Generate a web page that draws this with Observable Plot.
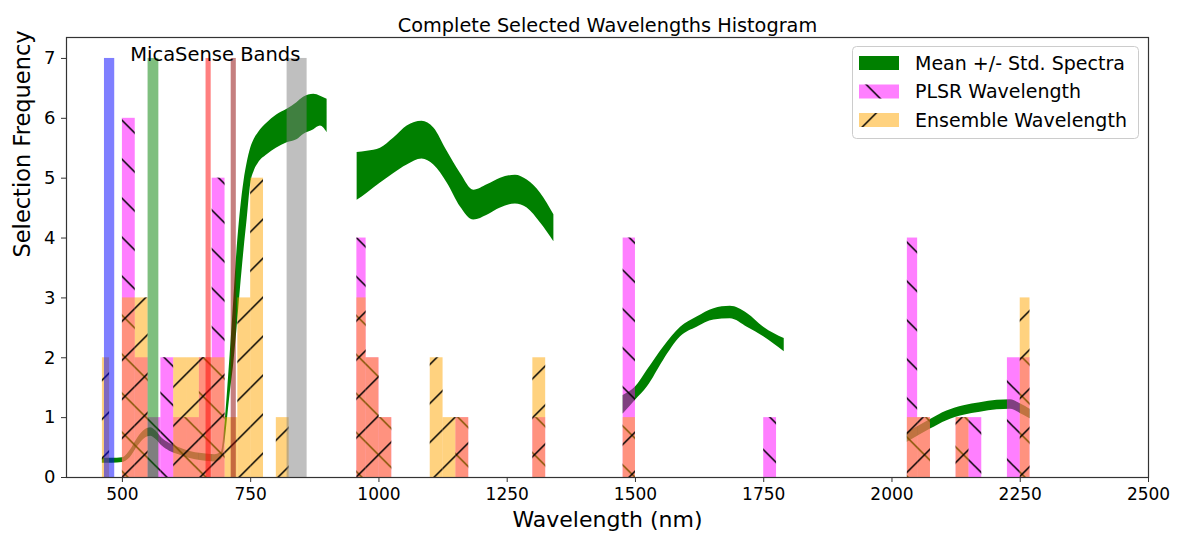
<!DOCTYPE html>
<html>
<head>
<meta charset="utf-8">
<script src="https://cdn.jsdelivr.net/npm/d3@7"></script>
<script src="https://cdn.jsdelivr.net/npm/@observablehq/plot@0.6"></script>
<style>
  html, body { margin: 0; padding: 0; background: #fff; }
  #chart { width: 1177px; height: 536px; }
</style>
</head>
<body>
<div id="chart"></div>
<script>
// ---------- data ----------
const titleText = "Complete Selected Wavelengths Histogram";
const xLabel = "Wavelength (nm)";
const yLabel = "Selection Frequency";
const xTicks = [500, 750, 1000, 1250, 1500, 1750, 2000, 2250, 2500];
const yTicks = [0, 1, 2, 3, 4, 5, 6, 7];

// MicaSense band spans
const bandNames = ["Blue", "Green", "Red", "RedEdge", "NIR"];
const bandStart = [465, 550, 663, 712, 821];
const bandEnd   = [485, 571, 673, 722, 860];
const bandTop   = [7, 7, 7, 7, 7];
const bandLabel = "MicaSense Bands";
const bandLabelX = 681;
const bandLabelY = 7;

// PLSR selected wavelength histogram
const plsrStart = [500, 525, 550, 575, 600, 625, 650, 675, 957, 975, 1000, 1150, 1300, 1476, 1750, 2030, 2050, 2125, 2150, 2225, 2250];
const plsrEnd   = [525, 550, 575, 600, 625, 650, 675, 700, 975, 1000, 1025, 1175, 1325, 1500, 1775, 2050, 2075, 2150, 2175, 2250, 2269];
const plsrCount = [6, 2, 1, 2, 1, 1, 2, 5, 4, 2, 1, 1, 1, 4, 1, 4, 1, 1, 1, 2, 2];

// Ensemble selected wavelength histogram
const ensStart = [461, 500, 525, 600, 625, 650, 675, 700, 725, 750, 800, 957, 975, 1000, 1100, 1125, 1150, 1300, 1476, 2030, 2050, 2125, 2250];
const ensEnd   = [475, 525, 550, 625, 650, 675, 700, 725, 750, 775, 825, 975, 1000, 1025, 1125, 1150, 1175, 1325, 1500, 2050, 2075, 2150, 2269];
const ensCount = [2, 3, 3, 2, 2, 2, 2, 1, 3, 5, 1, 3, 2, 1, 2, 1, 1, 2, 1, 1, 1, 1, 3];

// Mean +/- std spectra (scaled), segments separated by water-absorption gaps
const specSeg = [
  1,1,1,1,1,1,1,1,1,1,1,1,1,1,1,1,1,1,1,1,1,1,1,1,1,1,1,1,1,1,1,1,1,1,
  2,2,2,2,2,2,2,2,2,2,2,2,2,2,2,2,
  3,3,3,3,3,3,3,3,3,3,3,
  4,4,4,4,4,4,4,4,4
];
const specWl = [
  461, 480, 500, 515, 530, 545, 555, 565, 578, 592, 610, 630, 655, 680, 693, 700, 705, 710, 717, 723, 730, 737, 743, 750, 757, 765, 782, 800, 821, 840, 853, 873, 886, 899,
  957.5, 977, 1003, 1029, 1055, 1084, 1107, 1133, 1159, 1185, 1211, 1237, 1266, 1289, 1315, 1341,
  1476, 1500, 1523, 1555, 1588, 1620, 1653, 1685, 1718, 1750, 1790,
  2030, 2075, 2107, 2140, 2172, 2205, 2231, 2250, 2269
];
const specLo = [
  0.24, 0.24, 0.25, 0.33, 0.52, 0.66, 0.69, 0.64, 0.52, 0.44, 0.38, 0.32, 0.28, 0.26, 0.30, 0.60, 1.00, 1.40, 1.90, 2.45, 3.15, 3.80, 4.30, 4.90, 5.12, 5.25, 5.39, 5.50, 5.59, 5.64, 5.73, 5.81, 5.87, 5.76,
  4.63, 4.75, 4.92, 5.08, 5.22, 5.32, 5.22, 4.92, 4.52, 4.30, 4.38, 4.50, 4.57, 4.50, 4.25, 3.94,
  1.06, 1.29, 1.51, 1.96, 2.35, 2.51, 2.63, 2.65, 2.51, 2.35, 2.10,
  0.59, 0.81, 0.95, 1.04, 1.09, 1.13, 1.14, 1.07, 0.98
];
const specHi = [
  0.32, 0.32, 0.33, 0.45, 0.66, 0.80, 0.83, 0.78, 0.65, 0.57, 0.50, 0.44, 0.40, 0.38, 0.42, 0.90, 1.45, 2.05, 2.95, 3.75, 4.45, 4.95, 5.25, 5.50, 5.65, 5.76, 5.92, 6.05, 6.15, 6.26, 6.35, 6.40, 6.37, 6.32,
  5.43, 5.45, 5.50, 5.67, 5.87, 5.95, 5.84, 5.45, 5.08, 4.80, 4.89, 5.00, 5.05, 4.97, 4.75, 4.39,
  1.37, 1.51, 1.79, 2.18, 2.51, 2.68, 2.82, 2.86, 2.74, 2.51, 2.32,
  0.75, 0.97, 1.11, 1.20, 1.25, 1.29, 1.30, 1.23, 1.14
];

const legendLabels = ["Mean +/- Std. Spectra", "PLSR Wavelength", "Ensemble Wavelength"];

// ---------- tables ----------
const bands = bandNames.map((name, i) => ({name, x1: bandStart[i], x2: bandEnd[i], top: bandTop[i]}));
const plsr = plsrStart.map((s, i) => ({x1: s, x2: plsrEnd[i], n: plsrCount[i]}));
const ens = ensStart.map((s, i) => ({x1: s, x2: ensEnd[i], n: ensCount[i]}));
const spec = specWl.map((w, i) => ({seg: specSeg[i], wl: w, lo: specLo[i], hi: specHi[i]}));

const FONT = "DejaVu Sans, sans-serif";

function hatchDefs() {
  const g = d3.create("svg:g");
  const defs = g.append("defs");
  const T = 39;
  defs.append("pattern")
    .attr("id", "hatchBack").attr("patternUnits", "userSpaceOnUse")
    .attr("width", T).attr("height", T).attr("x", 0).attr("y", -1.7)
    .append("path")
    .attr("d", `M-5,-5L${T+5},${T+5}M-5,${T-5}L5,${T+5}M${T-5},-5L${T+5},5`)
    .attr("stroke", "#000").attr("stroke-width", 1.5).attr("fill", "none");
  defs.append("pattern")
    .attr("id", "hatchFwd").attr("patternUnits", "userSpaceOnUse")
    .attr("width", T).attr("height", T).attr("x", 0).attr("y", 14.3)
    .append("path")
    .attr("d", `M-5,${T+5}L${T+5},-5M-5,5L5,-5M${T-5},${T+5}L${T+5},${T-5}`)
    .attr("stroke", "#000").attr("stroke-width", 1.5).attr("fill", "none");
  return g.node();
}

const chart = Plot.plot({
  width: 1177,
  height: 536,
  marginLeft: 66,
  marginRight: 29,
  marginTop: 37,
  marginBottom: 59,
  style: {fontFamily: FONT, fontSize: "17px", color: "#000", background: "#fff"},
  x: {domain: [391, 2500]},
  y: {domain: [0, 7.35]},
  color: {domain: bandNames, range: ["blue", "green", "red", "darkred", "gray"]},
  marks: [
    hatchDefs,
    // spectra band
    Plot.areaY(spec, {x: "wl", y1: "lo", y2: "hi", z: "seg", fill: "green", curve: "monotone-x"}),
    // PLSR bars
    Plot.rect(plsr, {x1: "x1", x2: "x2", y1: 0, y2: "n", fill: "magenta", fillOpacity: 0.5}),
    Plot.rect(plsr, {x1: "x1", x2: "x2", y1: 0, y2: "n", fill: "url(#hatchBack)"}),
    // Ensemble bars
    Plot.rect(ens, {x1: "x1", x2: "x2", y1: 0, y2: "n", fill: "orange", fillOpacity: 0.5}),
    Plot.rect(ens, {x1: "x1", x2: "x2", y1: 0, y2: "n", fill: "url(#hatchFwd)"}),
    // MicaSense bands
    Plot.rect(bands, {x1: "x1", x2: "x2", y1: 0, y2: "top", fill: "name", fillOpacity: 0.5}),
    Plot.text([bandLabel], {x: bandLabelX, y: bandLabelY, text: d => d, textAnchor: "middle", lineAnchor: "bottom", dy: 3, fontSize: 19.5, fill: "#000"}),
    // axes
    Plot.axisX({ticks: xTicks, tickSize: 5, tickPadding: 5, label: null, fontSize: 17, stroke: "#333", tickFormat: d => String(d)}),
    Plot.axisY({ticks: yTicks, tickSize: 5, tickPadding: 6, label: null, fontSize: 18, stroke: "#333", tickFormat: d => String(d)}),
    Plot.frame({stroke: "#333", strokeWidth: 1.2}),
    // titles
    Plot.text([titleText], {frameAnchor: "top", dy: -19, text: d => d, fontSize: 19.3, fill: "#000"}),
    Plot.text([xLabel], {frameAnchor: "bottom", dy: 49, text: d => d, fontSize: 22, fill: "#000"}),
    Plot.text([yLabel], {frameAnchor: "left", dx: -44, rotate: -90, text: d => d, fontSize: 22.5, fill: "#000"})
  ]
});

// ---------- legend (inside the axes, upper right) ----------
const svg = d3.select(chart);
const lg = svg.append("g").attr("font-family", FONT).attr("font-size", 19).attr("text-anchor", "start");
lg.append("rect").attr("x", 852.5).attr("y", 46.5).attr("width", 286).attr("height", 92)
  .attr("rx", 4).attr("fill", "#fff").attr("fill-opacity", 0.8).attr("stroke", "#ccc");
const rows = [63, 91.5, 120];
const sw = {x: 859, w: 40, h: 14};
// spectra swatch
lg.append("rect").attr("x", sw.x).attr("y", rows[0] - sw.h / 2).attr("width", sw.w).attr("height", sw.h).attr("fill", "green");
// PLSR swatch
lg.append("rect").attr("x", sw.x).attr("y", rows[1] - sw.h / 2).attr("width", sw.w).attr("height", sw.h).attr("fill", "magenta").attr("fill-opacity", 0.5);
lg.append("rect").attr("x", sw.x).attr("y", rows[1] - sw.h / 2).attr("width", sw.w).attr("height", sw.h).attr("fill", "url(#hatchBack)");
// Ensemble swatch
lg.append("rect").attr("x", sw.x).attr("y", rows[2] - sw.h / 2).attr("width", sw.w).attr("height", sw.h).attr("fill", "orange").attr("fill-opacity", 0.5);
lg.append("rect").attr("x", sw.x).attr("y", rows[2] - sw.h / 2).attr("width", sw.w).attr("height", sw.h).attr("fill", "url(#hatchFwd)");
legendLabels.forEach((t, i) => {
  lg.append("text").attr("x", 915).attr("y", rows[i]).attr("dy", "0.35em").attr("fill", "#000").attr("text-anchor", "start").text(t);
});

document.getElementById("chart").appendChild(chart);
</script>
</body>
</html>
